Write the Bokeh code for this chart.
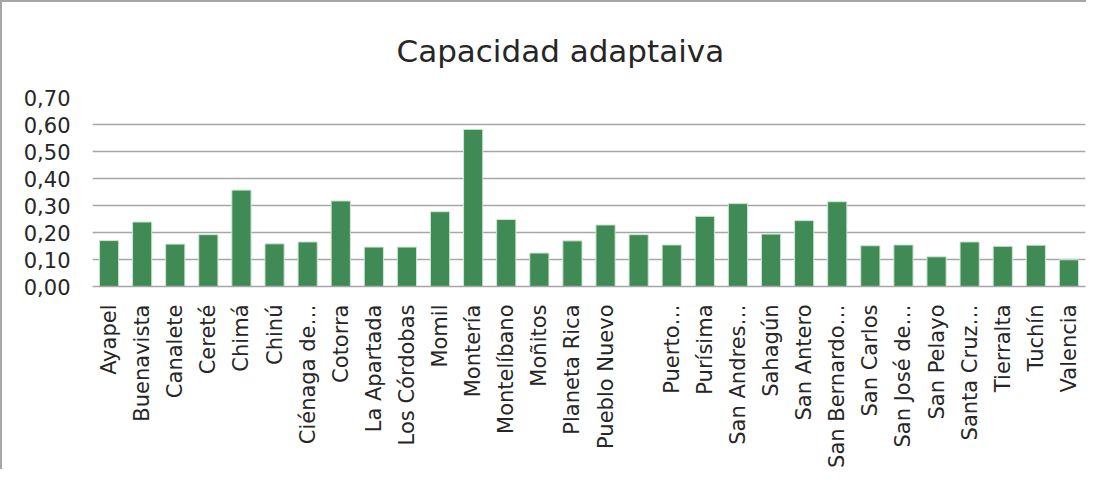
from bokeh.plotting import figure
from bokeh.models import Range1d, FixedTicker, CustomJSTickFormatter
from bokeh.embed import file_html
from bokeh.resources import INLINE

municipios = ["Ayapel", "Buenavista", "Canalete", "Cereté", "Chimá", "Chinú", "Ciénaga de…",
              "Cotorra", "La Apartada", "Los Córdobas", "Momil", "Montería", "Montelíbano",
              "Moñitos", "Planeta Rica", "Pueblo Nuevo", "", "Puerto…", "Purísima",
              "San Andres…", "Sahagún", "San Antero", "San Bernardo…", "San Carlos",
              "San José de…", "San Pelayo", "Santa Cruz…", "Tierralta", "Tuchín", "Valencia"]
capacidad = [0.170, 0.239, 0.157, 0.192, 0.357, 0.158, 0.165,
             0.317, 0.146, 0.146, 0.277, 0.582, 0.248,
             0.124, 0.169, 0.228, 0.192, 0.154, 0.260,
             0.307, 0.194, 0.244, 0.314, 0.151,
             0.154, 0.110, 0.165, 0.149, 0.153, 0.099]
y_ticks = [0.0, 0.1, 0.2, 0.3, 0.4, 0.5, 0.6, 0.7]

FONT = "DejaVu Sans"
positions = list(range(1, len(municipios) + 1))

p = figure(width=1086, height=469, output_backend="svg", toolbar_location=None,
           x_range=Range1d(0.5, len(municipios) + 0.5), y_range=Range1d(0, 0.70),
           title="Capacidad adaptaiva",
           min_border_left=90, min_border_right=3, min_border_top=94, min_border_bottom=185)

p.vbar(x=positions, top=capacidad, width=0.58, fill_color="#3f8a55",
       line_color="#cfe6d6", line_width=1)

p.title.align = "left"
p.title.text_font = FONT
p.title.text_font_size = "31px"
p.title.text_font_style = "normal"
p.title.text_color = "#262626"
p.title.standoff = 57
p.title.offset = 304

p.xaxis.ticker = FixedTicker(ticks=positions)
p.xaxis.major_label_overrides = {i: (m if m else " ") for i, m in zip(positions, municipios)}
p.xaxis.major_label_orientation = 3.14159265 / 2
p.xaxis.major_label_text_font = FONT
p.xaxis.major_label_text_font_size = "21px"
p.xaxis.major_label_text_color = "#262626"
p.xaxis.major_tick_line_color = None
p.xaxis.minor_tick_line_color = None
p.xaxis.axis_line_color = "#a6a6a6"
p.xaxis.axis_line_width = 1.5
p.xaxis.major_label_standoff = 12

p.yaxis.ticker = FixedTicker(ticks=y_ticks)
p.yaxis.formatter = CustomJSTickFormatter(code="return tick.toFixed(2).replace('.', ',');")
p.yaxis.major_label_text_font = FONT
p.yaxis.major_label_text_font_size = "21px"
p.yaxis.major_label_text_color = "#262626"
p.yaxis.major_tick_line_color = None
p.yaxis.minor_tick_line_color = None
p.yaxis.axis_line_color = None
p.yaxis.major_label_standoff = 16

p.xgrid.grid_line_color = None
p.ygrid.grid_line_color = "#a6a6a6"
p.ygrid.grid_line_width = 1.5
p.outline_line_color = None
p.styles = {"border-top": "2px solid #a6a6a6", "border-left": "2px solid #a6a6a6"}

open("out.html", "w").write(file_html(p, INLINE))
